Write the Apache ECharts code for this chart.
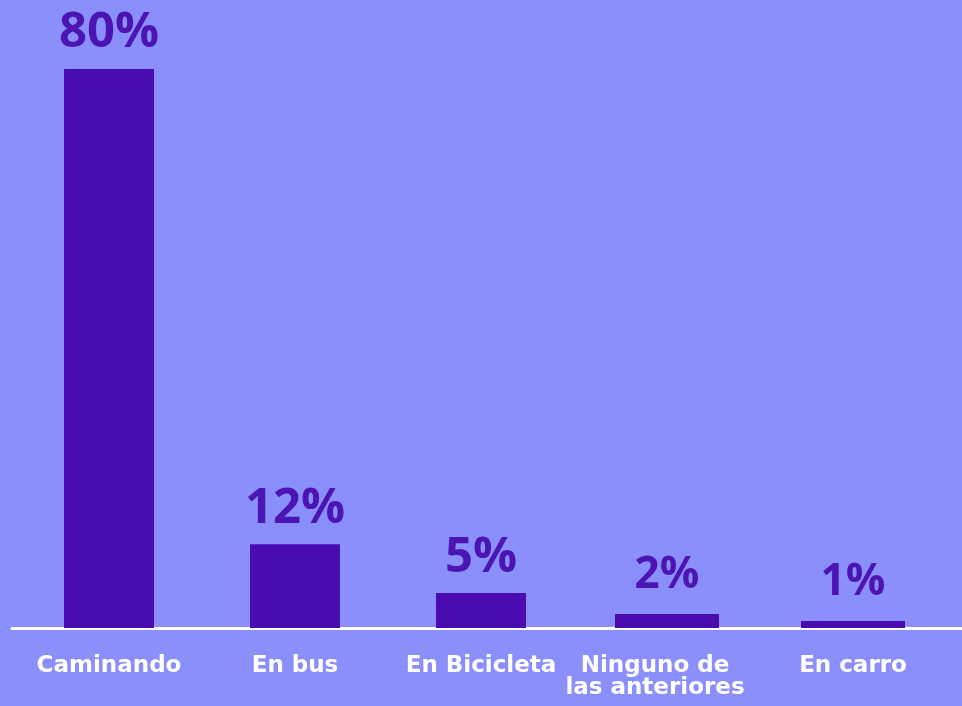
<!DOCTYPE html>
<html>
<head>
<meta charset="utf-8">
<script src="https://cdn.jsdelivr.net/npm/echarts@6/dist/echarts.min.js"></script>
<style>
html,body{margin:0;padding:0;background:#8b8ffc;}
#c{width:962px;height:706px;}
</style>
</head>
<body>
<div id="c"></div>
<script>
var categories = ['Caminando', 'En bus', 'En Bicicleta', 'Ninguno de\nlas anteriores', 'En carro'];
var valuesNarrow = [80, 12, 5, null, null];
var valuesWide = [null, null, null, 2, 1];

var chart = echarts.init(document.getElementById('c'));
function labelStyle(size, dist) {
  return {
    show: true,
    position: 'top',
    distance: dist,
    formatter: '{c}%',
    fontFamily: 'Open Sans',
    fontWeight: 'bold',
    fontSize: size,
    color: '#4b14b3'
  };
}
var axisData = categories.map(function (c, i) {
  return i === 3 ? {value: c, textStyle: {padding: [0, 24, 0, 0]}} : c;
});
chart.setOption({
  backgroundColor: '#8b8ffc',
  animation: false,
  grid: [
    {left: 16, right: 16, top: 69, bottom: 78, containLabel: false, outerBoundsMode: 'none'},
    {left: 12, right: 0, top: 69, bottom: 78, containLabel: false, outerBoundsMode: 'none'}
  ],
  xAxis: [
    {
      type: 'category',
      data: axisData,
      gridIndex: 0,
      axisLine: {show: false},
      axisTick: {show: false},
      axisLabel: {
        color: '#ffffff',
        fontFamily: 'DejaVu Sans',
        fontWeight: 'bold',
        fontSize: 23,
        margin: 27,
        lineHeight: 22,
        verticalAlign: 'top',
        interval: 0
      }
    },
    {
      type: 'category',
      data: categories,
      gridIndex: 1,
      axisLine: {show: true, lineStyle: {color: '#ffffff', width: 3}},
      axisTick: {show: false},
      axisLabel: {show: false}
    },
    {
      type: 'category',
      data: categories,
      gridIndex: 0,
      show: false
    }
  ],
  yAxis: [
    {type: 'value', min: 0, max: 80, gridIndex: 0, show: false},
    {type: 'value', min: 0, max: 80, gridIndex: 1, show: false}
  ],
  series: [
    {
      type: 'bar',
      xAxisIndex: 0,
      yAxisIndex: 0,
      data: valuesNarrow,
      barWidth: 90,
      itemStyle: {color: '#4a0bb0'},
      label: labelStyle(49, 11)
    },
    {
      type: 'bar',
      xAxisIndex: 2,
      yAxisIndex: 0,
      data: valuesWide,
      barWidth: 104,
      itemStyle: {color: '#4a0bb0'},
      label: labelStyle(44, 17)
    }
  ]
});
</script>
</body>
</html>
